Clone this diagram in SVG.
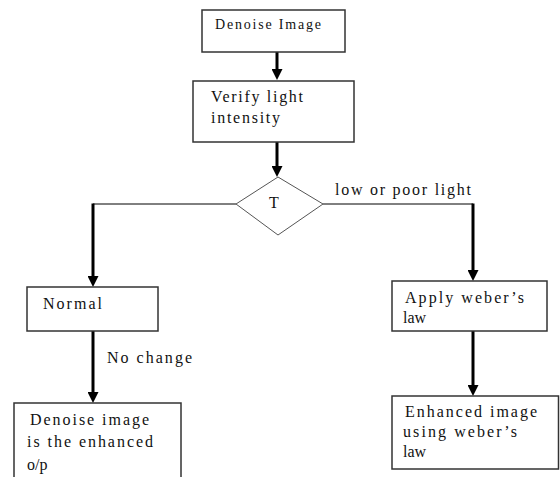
<svg xmlns="http://www.w3.org/2000/svg" width="560" height="477" viewBox="0 0 560 477">
  <style>
    .box { fill: #ffffff; stroke: #333333; stroke-width: 1.5; }
    .dia { fill: #ffffff; stroke: #555555; stroke-width: 1; }
    .lbl { font-family: "Liberation Serif", "Times New Roman", serif; font-size: 16px; fill: #111111; }
    .sm { font-size: 14px; }
    .thick { stroke: #000000; stroke-width: 3; fill: none; }
    .thin { stroke: #000000; stroke-width: 1; fill: none; }
  </style>
  <defs>
    <marker id="head" markerUnits="userSpaceOnUse" markerWidth="11" markerHeight="11" refX="0" refY="5.5" orient="auto">
      <path d="M0,0 L11,5.5 L0,11 z" fill="#000000"/>
    </marker>
  </defs>
  <rect width="560" height="477" fill="#ffffff"/>

  <g id="connectors">
    <line class="thick" x1="277" y1="52" x2="277" y2="69" marker-end="url(#head)"/>
    <line class="thick" x1="277" y1="142" x2="277" y2="166" marker-end="url(#head)"/>
    <polyline class="thin" points="236,204 93,204"/>
    <line class="thick" x1="93" y1="203.5" x2="93" y2="276" marker-end="url(#head)"/>
    <line class="thick" x1="93" y1="331" x2="93" y2="392" marker-end="url(#head)"/>
    <polyline class="thin" points="323,204 473,204"/>
    <line class="thick" x1="473" y1="203.5" x2="473" y2="270" marker-end="url(#head)"/>
    <line class="thick" x1="473" y1="331" x2="473" y2="385" marker-end="url(#head)"/>
    <text class="lbl" x="335" y="195" textLength="136" lengthAdjust="spacing">low or poor light</text>
    <text class="lbl" x="107" y="363" textLength="85" lengthAdjust="spacing">No change</text>
  </g>

  <g id="denoise">
    <rect class="box" x="202" y="10" width="143" height="42"/>
    <text class="lbl sm" x="215" y="29" textLength="106" lengthAdjust="spacing">Denoise Image</text>
  </g>

  <g id="verify">
    <rect class="box" x="193" y="81" width="161" height="61"/>
    <text class="lbl" x="211" y="102" textLength="92" lengthAdjust="spacing">Verify light</text>
    <text class="lbl" x="211" y="123" textLength="69" lengthAdjust="spacing">intensity</text>
  </g>

  <g id="decision">
    <polygon class="dia" points="278,177 323,204 278,235 236,204"/>
    <text class="lbl" x="269" y="208">T</text>
  </g>

  <g id="normal">
    <rect class="box" x="27" y="287" width="131" height="44"/>
    <text class="lbl" x="43" y="309" textLength="59" lengthAdjust="spacing">Normal</text>
  </g>

  <g id="output-normal">
    <rect class="box" x="14" y="403" width="167" height="80"/>
    <text class="lbl" x="30" y="425" textLength="119" lengthAdjust="spacing">Denoise image</text>
    <text class="lbl" x="27" y="447" textLength="126" lengthAdjust="spacing">is the enhanced</text>
    <text class="lbl" x="27" y="470">o/p</text>
  </g>

  <g id="weber">
    <rect class="box" x="392" y="281" width="155" height="50"/>
    <text class="lbl" x="405" y="303" textLength="119" lengthAdjust="spacing">Apply weber’s</text>
    <text class="lbl" x="403" y="323">law</text>
  </g>

  <g id="output-weber">
    <rect class="box" x="392" y="396" width="166.5" height="73"/>
    <text class="lbl" x="405" y="417" textLength="132" lengthAdjust="spacing">Enhanced image</text>
    <text class="lbl" x="403" y="437" textLength="114" lengthAdjust="spacing">using weber’s</text>
    <text class="lbl" x="403" y="457">law</text>
  </g>
</svg>
